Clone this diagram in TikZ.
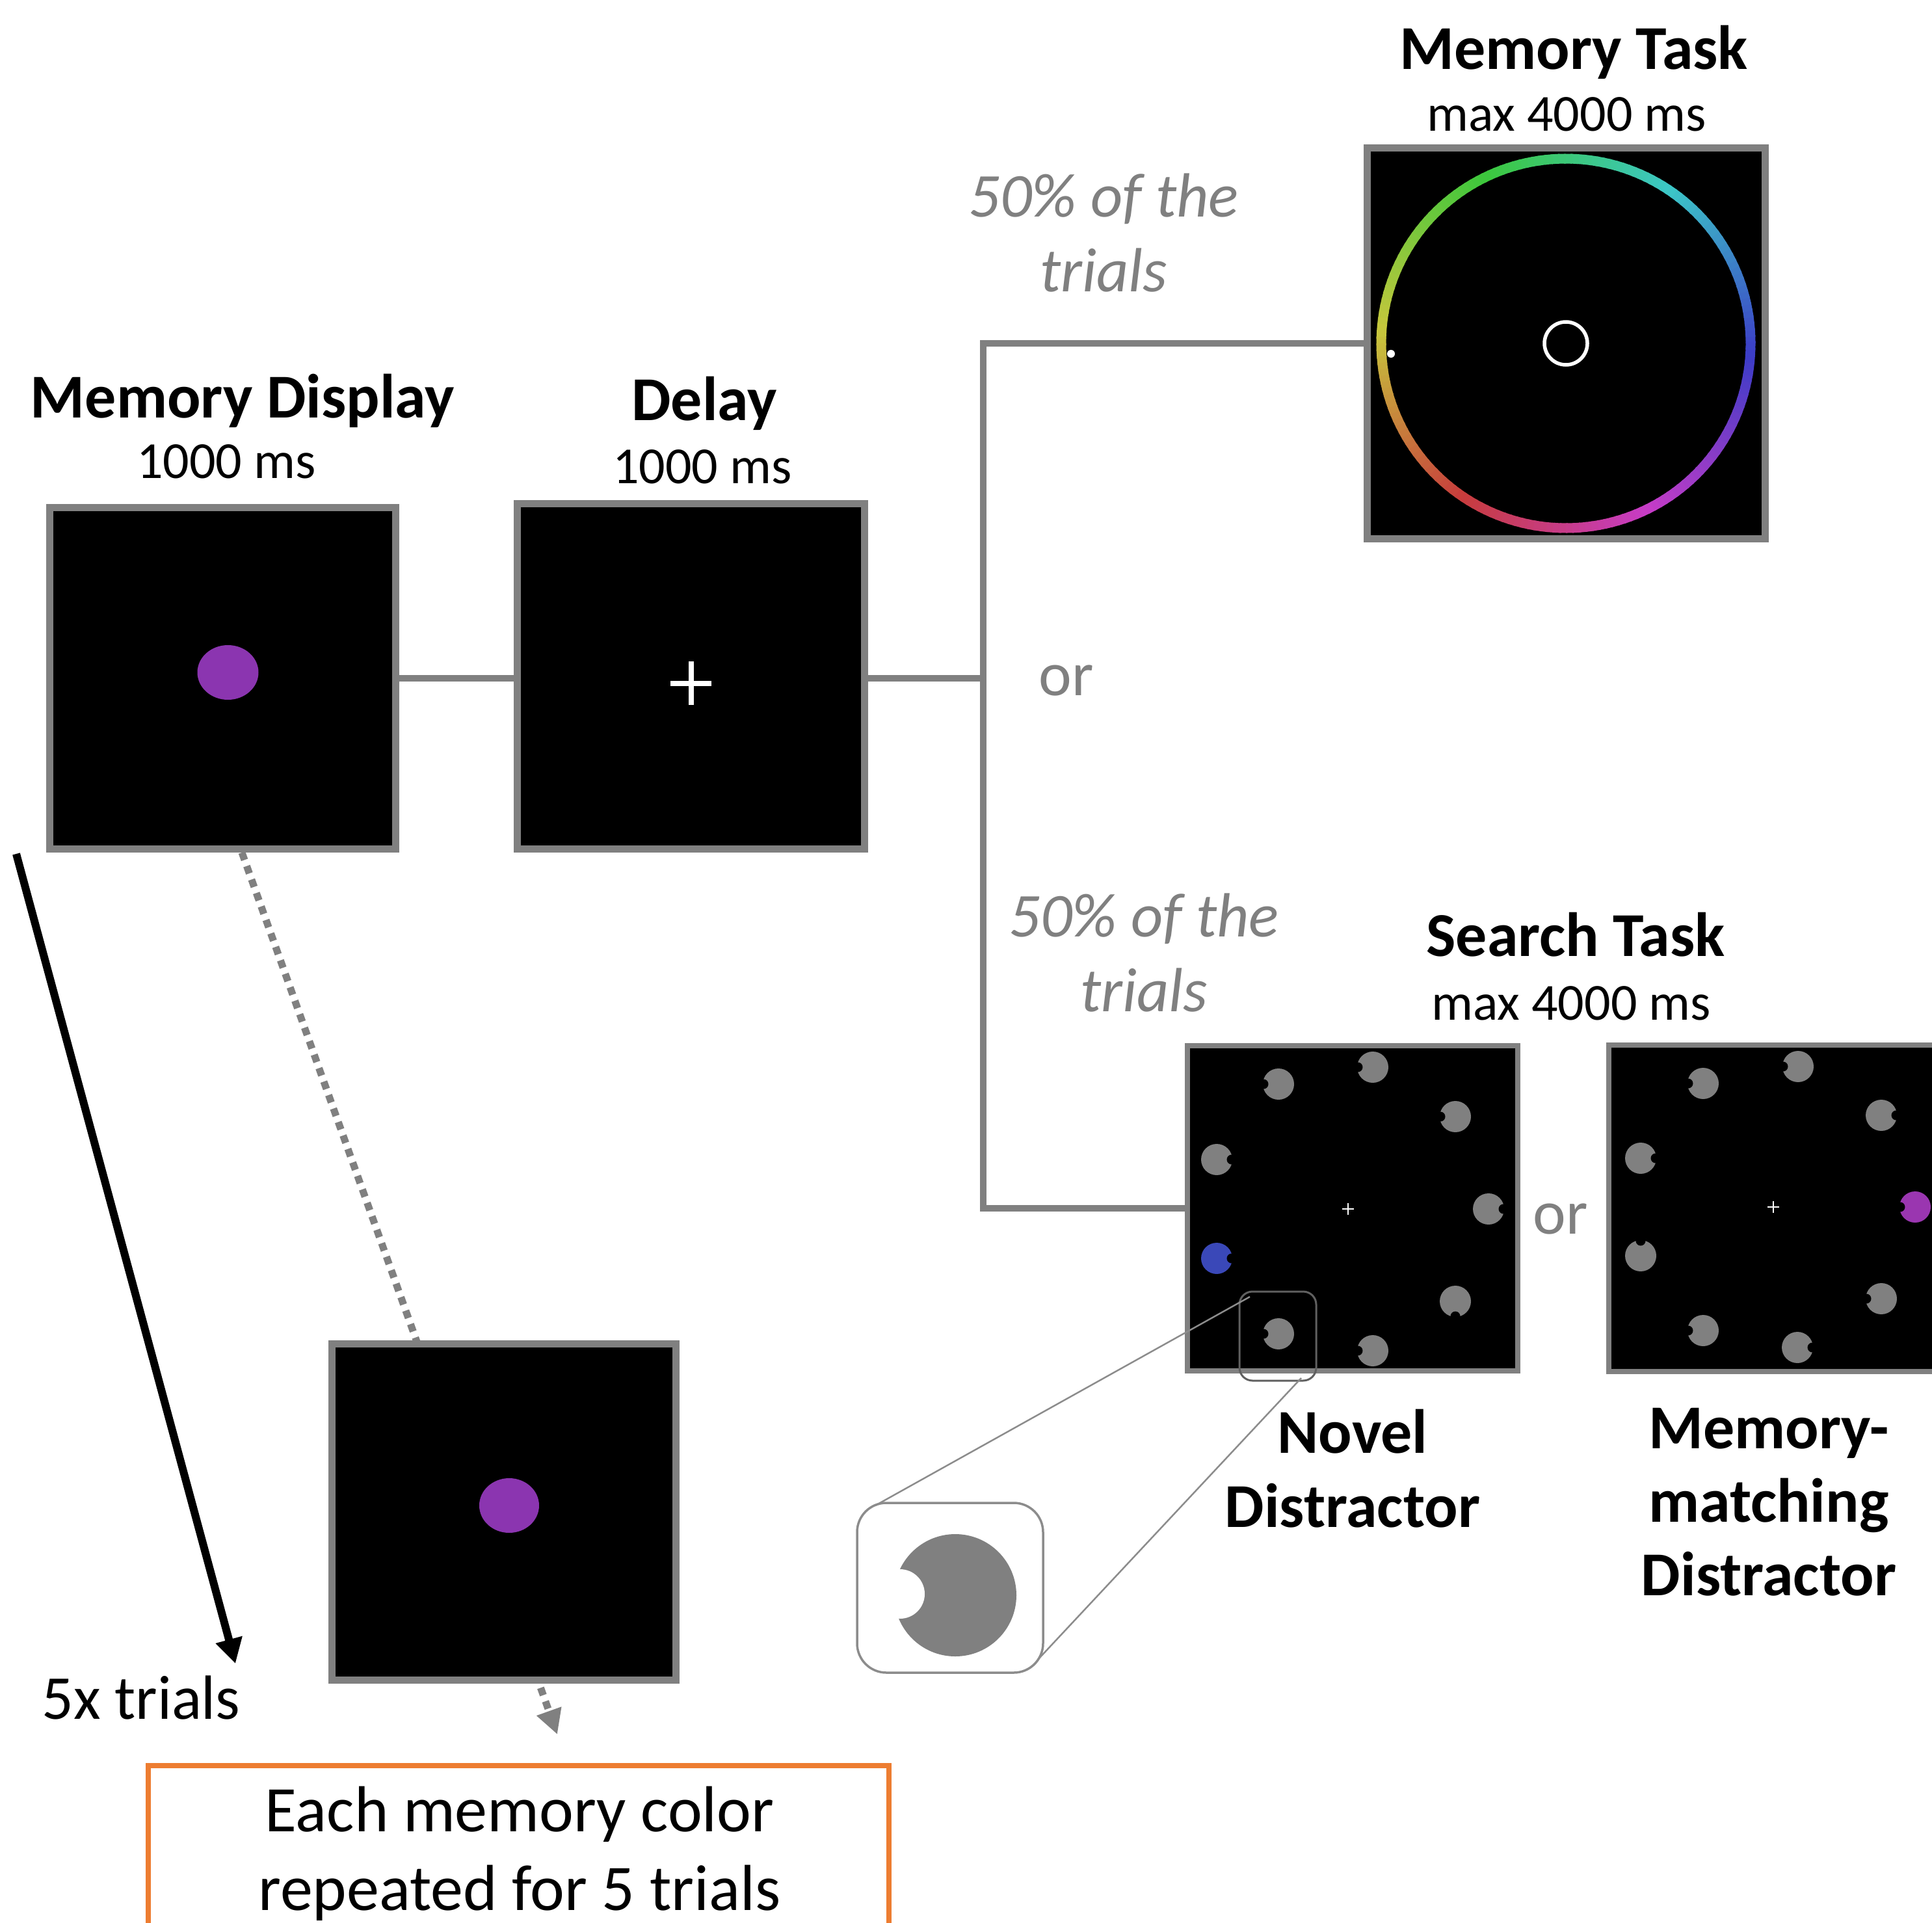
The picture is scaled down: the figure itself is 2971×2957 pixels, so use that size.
\documentclass[tikz,border=0pt]{standalone}
\usepackage{fontspec}
\setmainfont{Carlito}
\usetikzlibrary{arrows.meta,calc}

\definecolor{linegray}{RGB}{128,128,128}
\definecolor{itemgray}{RGB}{128,128,128}
\definecolor{framegray}{RGB}{96,96,96}
\definecolor{cuegray}{RGB}{140,140,140}
\definecolor{memviolet}{RGB}{139,53,176}
\definecolor{matchviolet}{RGB}{154,54,176}
\definecolor{novelblue}{RGB}{58,72,184}
\definecolor{noteorange}{RGB}{237,125,49}

\newcommand\ttlfont{\fontsize{96}{115}\selectfont\bfseries}
\newcommand\durfont{\fontsize{80}{96}\selectfont}
\newcommand\notefont{\fontsize{96}{115}\selectfont\itshape}
\newcommand\plainfont{\fontsize{96}{115}\selectfont}
\newcommand\boxfont{\fontsize{100}{120}\selectfont}

% search item: disc with a small bite; #1 colour, #2/#3 centre, #4 bite direction (degrees, counter-clockwise from right)
\newcommand\pacman[4][itemgray]{%
  \fill[#1] (#2,#3) circle[radius=24];
  \fill[black] (#2,#3) ++(-#4:23) circle[radius=7.5];
}

\begin{document}
\begin{tikzpicture}[x=1pt,y=-1pt,
  screen/.style={draw=linegray, fill=black, line width=11pt, inner sep=0pt},
  searchscreen/.style={screen, line width=8pt, minimum width=508pt, minimum height=500pt},
  branch/.style={draw=linegray, line width=10pt, line join=miter},
  ttl/.style={anchor=base, inner sep=0pt, font=\ttlfont},
  dur/.style={anchor=base, inner sep=0pt, font=\durfont},
  note/.style={anchor=base, inner sep=0pt, font=\notefont, text=linegray},
  ortext/.style={anchor=base, inner sep=0pt, font=\plainfont, text=linegray},
  boxtext/.style={anchor=base, inner sep=0pt, font=\boxfont},
  dotarrow/.style={draw=linegray, line width=11pt, dash pattern=on 12pt off 10pt,
    -{Triangle[length=38pt,width=38pt]}},
  looparrow/.style={draw=black, line width=12pt, -{Triangle[length=38pt,width=40pt]}},
  zoomframe/.style={draw=framegray, line width=3pt, rounded corners=20pt},
  zoombox/.style={draw=cuegray, line width=3.5pt, rounded corners=45pt, fill=white},
  zoomline/.style={draw=cuegray, line width=2.5pt},
  notebox/.style={draw=noteorange, line width=8pt, fill=white, inner sep=0pt}]

\useasboundingbox (0,0) rectangle (2971,2957);
\clip (0,0) rectangle (2971,2957);

% ---- repetition arrow on the left
\coordinate (loopStart) at (25,1313);
\coordinate (loopEnd) at (362,2558);
\draw[looparrow] (loopStart) -- (loopEnd);
\node[anchor=base, inner sep=0pt, font=\plainfont] (loopLabel) at (217,2643) {5x trials};

% ---- memory display
\node[screen, minimum width=532pt, minimum height=525pt] (memdisp) at (342.5,1043) {};
\fill[memviolet] (350.5,1034) ellipse[x radius=47, y radius=42];
\node[ttl] (memdispTitle) at (373,642) {Memory Display};
\node[dur] (memdispTime) at (348,735) {1000 ms};

% ---- delay
\node[screen, minimum width=534pt, minimum height=531pt] (delay) at (1062.5,1040) {};
\draw[white, line width=8pt] (1031,1050.5) -- (1094,1050.5) (1062.5,1017) -- (1062.5,1084);
\node[ttl] (delayTitle) at (1083,646) {Delay};
\node[dur] (delayTime) at (1080,743) {1000 ms};

% ---- memory task with colour wheel
\node[screen, minimum width=612pt, minimum height=601pt] (memtask) at (2408.5,528) {};
\begin{scope}[shift={(2408,528)}, yscale=-1]
  \foreach \a in {0,2,...,358}{
    \pgfmathsetmacro\hue{mod(955-\a,360)}
    \definecolor{wheelc}{Hsb}{\hue,0.70,0.78}
    \draw[wheelc, line width=15pt] (\a:284) arc[start angle=\a, end angle=\a+2.6, radius=284];
  }
  \draw[white, line width=5.5pt] (0,0) circle[radius=33];
\end{scope}
\fill[white] (2139,544) circle[radius=6];
\node[ttl] (memtaskTitle) at (2420,107) {Memory Task};
\node[dur] (memtaskTime) at (2409,202) {max 4000 ms};

% ---- search task, novel distractor
\node[searchscreen] (novel) at (2080,1858) {};
\draw[white, line width=2.5pt] (2064,1859) -- (2082,1859) (2073,1850) -- (2073,1868);
\pacman{1966}{1667}{180}
\pacman{2111}{1641}{180}
\pacman{2238}{1717}{180}
\pacman{1871}{1783}{0}
\pacman{2289}{1859}{0}
\pacman[novelblue]{1871}{1935}{0}
\pacman{2238}{2001}{270}
\pacman{1966}{2051}{180}
\pacman{2111}{2077}{180}

% ---- search task, memory-matching distractor
\node[searchscreen, minimum height=502pt] (matching) at (2728,1858) {};
\draw[white, line width=2.5pt] (2718,1856) -- (2736,1856) (2727,1847) -- (2727,1865);
\pacman{2619}{1666}{180}
\pacman{2765}{1640}{180}
\pacman{2893}{1715}{0}
\pacman{2523}{1781}{0}
\pacman[matchviolet]{2945}{1856}{180}
\pacman{2523}{1931}{90}
\pacman{2893}{1997}{180}
\pacman{2619}{2046}{180}
\pacman{2764}{2072}{0}

\node[ttl] (searchTitle) at (2423,1470) {Search Task};
\node[dur] (searchTime) at (2416,1568) {max 4000 ms};
\node[ortext] (orPanels) at (2400,1897) {or};

\node[ttl] (novelA) at (2080,2234) {Novel};
\node[ttl] (novelB) at (2080,2348) {Distractor};
\node[ttl] (matchA) at (2720,2227) {Memory-};
\node[ttl] (matchB) at (2720,2340) {matching};
\node[ttl] (matchC) at (2720,2453) {Distractor};

% ---- enlarged search item
\draw[zoomframe] (1906,1986) rectangle (2024,2123);
\node[zoombox, minimum width=286pt, minimum height=261pt] (zoomview) at (1461,2441.5) {};
\fill[itemgray] (1469,2453) circle[radius=94];
\fill[white] (1384,2451) circle[radius=38];
\coordinate (zoomSrcA) at (1922,1994);
\coordinate (zoomSrcB) at (2001,2119);
\coordinate (zoomDstA) at (1346,2315);
\coordinate (zoomDstB) at (1596,2552);
\draw[zoomline] (zoomSrcA) -- (zoomDstA);
\draw[zoomline] (zoomSrcB) -- (zoomDstB);

% ---- branching connectors
\coordinate (fork) at (1512,1043);
\draw[branch] (memdisp.east) -- (memdisp.east -| delay.west);
\draw[branch] (delay.east |- fork) -- (fork);
\draw[branch] (memtask.west) -| (fork) |- (novel.west);

\node[note] (pctTopA) at (1697,333) {50\% of the};
\node[note] (pctTopB) at (1697,448) {trials};
\node[note] (pctBotA) at (1759,1440) {50\% of the};
\node[note] (pctBotB) at (1759,1555) {trials};
\node[ortext] (orBranch) at (1640,1069) {or};

% ---- repeated memory display
\coordinate (dotStart) at (372,1311);
\coordinate (dotTip) at (857,2667);
\draw[dotarrow] (dotStart) -- (dotTip);
\node[screen, minimum width=529pt, minimum height=517pt] (repeatdisp) at (775,2325) {};
\fill[memviolet] (783,2315) ellipse[x radius=46, y radius=42];

% ---- note box
\node[notebox, minimum width=1139pt, minimum height=400pt, anchor=north] (note) at (797.5,2711) {};
\node[boxtext] (noteA) at (799,2816) {Each memory color};
\node[boxtext] (noteB) at (799,2937) {repeated for 5 trials};

\end{tikzpicture}
\end{document}
